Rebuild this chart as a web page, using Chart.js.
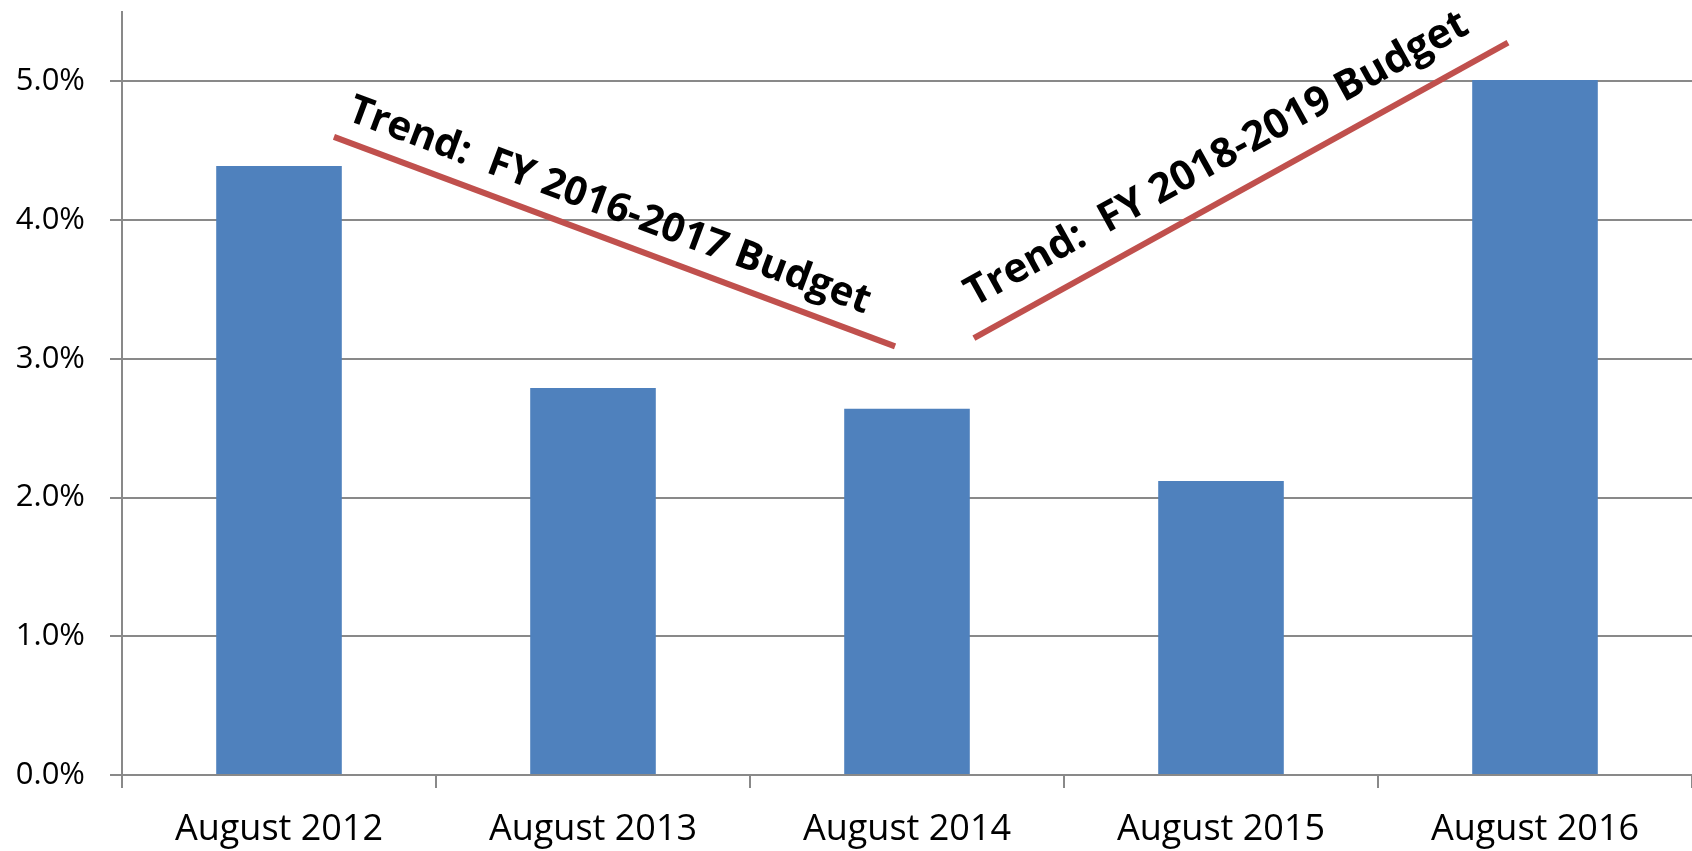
<!DOCTYPE html>
<html>
<head>
<meta charset="utf-8">
<script src="https://cdn.jsdelivr.net/npm/chart.js@4"></script>
<style>
  html, body { margin: 0; padding: 0; background: #ffffff; }
  #wrap { width: 1692px; height: 851px; position: relative; }
</style>
</head>
<body>
<div id="wrap"><canvas id="c"></canvas></div>
<script>
// ---- data ----
const categories = ["August 2012", "August 2013", "August 2014", "August 2015", "August 2016"];
const values = [4.39, 2.79, 2.64, 2.12, 5.01];   // percent
const yTicks = [0, 1, 2, 3, 4, 5];                // percent tick values
const trendLabels = ["Trend:  FY 2016-2017 Budget", "Trend:  FY 2018-2019 Budget"];
// trend lines in data coordinates: [categoryPosition, percent]
const trend1 = [[0.175, 4.60], [1.962, 3.09]];
const trend2 = [[2.213, 3.15], [3.914, 5.28]];

const BAR = '#4F81BD';
const RED = '#C0504D';
const GRID = '#898989';

const trendTextPlugin = {
  id: 'trendText',
  afterDatasetsDraw(chart) {
    const ctx = chart.ctx;
    const xs = chart.scales.x2, ys = chart.scales.y;
    const lines = [trend1, trend2];
    const opts = [{along: 5, perp: 20, size: 40}, {along: 15, perp: 27, size: 41}];
    ctx.save();
    ctx.fillStyle = '#000000';
    ctx.textAlign = 'left';
    ctx.textBaseline = 'alphabetic';
    lines.forEach((ln, i) => {
      const x0 = xs.getPixelForValue(ln[0][0]), y0 = ys.getPixelForValue(ln[0][1]);
      const x1 = xs.getPixelForValue(ln[1][0]), y1 = ys.getPixelForValue(ln[1][1]);
      const a = Math.atan2(y1 - y0, x1 - x0);
      ctx.save();
      ctx.font = 'bold ' + opts[i].size + 'px "Open Sans"';
      ctx.translate(x0, y0);
      ctx.rotate(a);
      ctx.fillText(trendLabels[i], opts[i].along, -opts[i].perp);
      ctx.restore();
    });
    ctx.restore();
  }
};

const ctx = document.getElementById('c').getContext('2d');
new Chart(ctx, {
  type: 'bar',
  data: {
    labels: categories,
    datasets: [
      {
        type: 'line',
        data: trend1.map(p => ({x: p[0], y: p[1]})),
        xAxisID: 'x2', yAxisID: 'y',
        borderColor: RED, borderWidth: 6, borderCapStyle: 'butt',
        pointRadius: 0, fill: false, tension: 0, order: 0
      },
      {
        type: 'line',
        data: trend2.map(p => ({x: p[0], y: p[1]})),
        xAxisID: 'x2', yAxisID: 'y',
        borderColor: RED, borderWidth: 6, borderCapStyle: 'butt',
        pointRadius: 0, fill: false, tension: 0, order: 0
      },
      {
        type: 'bar',
        data: values,
        xAxisID: 'x', yAxisID: 'y',
        backgroundColor: BAR,
        borderWidth: 0,
        grouped: false,
        barPercentage: 0.4,
        categoryPercentage: 1.0,
        order: 1
      }
    ]
  },
  options: {
    responsive: true,
    maintainAspectRatio: false,
    animation: false,
    layout: { padding: { top: 12, left: 0, right: 0, bottom: 0 } },
    plugins: { legend: { display: false }, tooltip: { enabled: false } },
    scales: {
      x: {
        type: 'category',
        position: 'bottom',
        offset: true,
        grid: { display: true, drawOnChartArea: false, drawTicks: true, tickLength: 13, offset: true, color: GRID, lineWidth: 2 },
        border: { display: true, color: GRID, width: 2 },
        ticks: { color: '#000000', font: { family: '"Open Sans"', size: 36 }, padding: 20, maxRotation: 0, autoSkip: false },
        afterFit(scale) { scale.height = 76; scale.paddingLeft = 0; scale.paddingRight = 0; }
      },
      x2: {
        type: 'linear',
        display: false,
        offset: false,
        grid: { offset: false },
        min: -0.5,
        max: 4.5
      },
      y: {
        type: 'linear',
        min: 0,
        max: 5.5,
        afterBuildTicks(scale) { scale.ticks = yTicks.map(v => ({value: v})); },
        grid: { color: GRID, lineWidth: 2, drawTicks: true, tickLength: 12 },
        border: { display: true, color: GRID, width: 2 },
        ticks: {
          color: '#000000',
          font: { family: '"Open Sans"', size: 31 },
          padding: 25,
          callback: (v) => Number(v).toFixed(1) + '%'
        },
        afterFit(scale) { scale.width = 122; scale.paddingTop = 0; scale.paddingBottom = 0; }
      }
    }
  },
  plugins: [trendTextPlugin]
});
</script>
</body>
</html>
